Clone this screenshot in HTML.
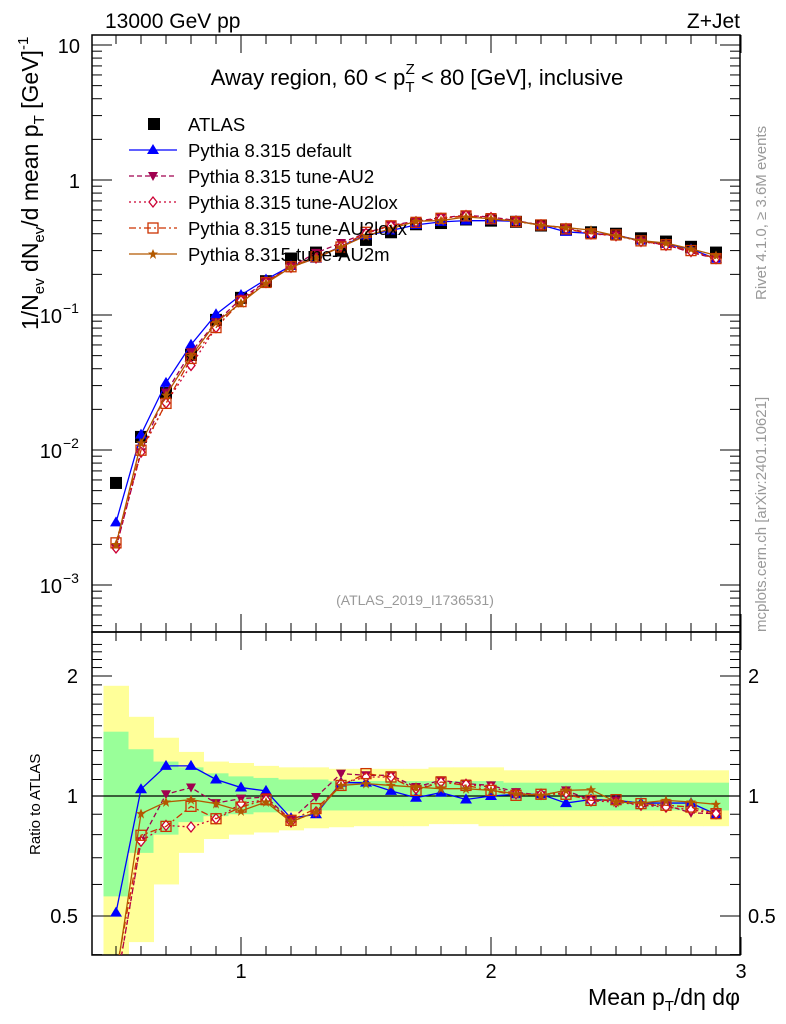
<!DOCTYPE html>
<html><head><meta charset="utf-8"><style>
body{margin:0;background:#fff;}
svg{display:block;font-family:"Liberation Sans",sans-serif;}
</style></head><body>
<svg id="c" width="786" height="1024" viewBox="0 0 786 1024" xmlns="http://www.w3.org/2000/svg">
<text x="105" y="28" font-size="21">13000 GeV pp</text>
<text x="740" y="28" font-size="21" text-anchor="end">Z+Jet</text>
<text x="417" y="85" font-size="22" text-anchor="middle">Away region, 60 &lt; p<tspan font-size="15" dy="7">T</tspan><tspan font-size="15" dx="-9" dy="-18">Z</tspan><tspan dy="11"> &lt; 80 [GeV], inclusive</tspan></text>
<text x="415" y="605" font-size="14" fill="#999" text-anchor="middle">(ATLAS_2019_I1736531)</text>
<text transform="translate(766,300) rotate(-90)" font-size="15" fill="#999">Rivet 4.1.0, ≥ 3.6M events</text>
<text transform="translate(766,632) rotate(-90)" font-size="15" fill="#999">mcplots.cern.ch [arXiv:2401.10621]</text>
<text transform="translate(38,330) rotate(-90)" font-size="23">1/N<tspan font-size="15" dy="6">ev</tspan><tspan dy="-6"> dN</tspan><tspan font-size="15" dy="6">ev</tspan><tspan dy="-6">/d mean p</tspan><tspan font-size="15" dy="6">T</tspan><tspan dy="-6"> [GeV]</tspan><tspan font-size="15" dy="-10">-1</tspan></text>
<text transform="translate(40,855) rotate(-90)" font-size="15">Ratio to ATLAS</text>
<text x="740" y="1005" font-size="23" text-anchor="end">Mean p<tspan font-size="15" dy="6">T</tspan><tspan dy="-6">/dη dφ</tspan></text>
<g id="g"></g>
</svg>
<script>
const xs=[0.5,0.6,0.7,0.8,0.9,1.0,1.1,1.2,1.3,1.4,1.5,1.6,1.7,1.8,1.9,2.0,2.1,2.2,2.3,2.4,2.5,2.6,2.7,2.8,2.9];
const atlas=[0.0057,0.0125,0.0264,0.0506,0.092,0.134,0.178,0.262,0.29,0.30,0.36,0.41,0.47,0.48,0.51,0.50,0.49,0.46,0.43,0.41,0.40,0.37,0.35,0.32,0.29];
const rDefault=[0.51,1.04,1.19,1.19,1.10,1.05,1.03,0.88,0.90,1.08,1.08,1.03,0.99,1.02,0.98,1.00,1.01,1.01,0.96,0.98,0.975,0.96,0.96,0.96,0.90];
const rAU2=[0.33,0.77,1.01,1.05,0.96,0.985,0.994,0.87,0.994,1.138,1.127,1.127,1.053,1.095,1.074,1.063,1.023,1.004,1.033,0.975,0.975,0.948,0.948,0.907,0.903];
const rAU2lox=[0.33,0.77,0.844,0.836,0.877,0.957,0.979,0.861,0.912,1.074,1.116,1.116,1.043,1.084,1.070,1.053,1.013,1.010,1.017,0.972,0.966,0.948,0.938,0.924,0.903];
const rAU2loxx=[0.36,0.797,0.839,0.942,0.877,0.938,0.979,0.869,0.930,1.063,1.138,1.116,1.033,1.084,1.063,1.033,1.004,1.010,1.010,0.975,0.979,0.957,0.948,0.938,0.903];
const rAU2m=[0.35,0.903,0.966,0.979,0.957,0.917,0.966,0.861,0.912,1.063,1.074,1.063,1.053,1.043,1.043,1.033,1.013,1.004,1.033,1.037,0.966,0.960,0.975,0.966,0.953];
const yelUp=[1.89,1.58,1.40,1.29,1.22,1.21,1.19,1.18,1.18,1.17,1.17,1.17,1.17,1.18,1.18,1.18,1.16,1.16,1.16,1.16,1.16,1.16,1.16,1.16,1.16];
const yelLo=[0.30,0.43,0.60,0.72,0.78,0.80,0.81,0.82,0.83,0.835,0.84,0.84,0.84,0.85,0.85,0.84,0.84,0.84,0.84,0.84,0.84,0.84,0.84,0.84,0.84];
const grnUp=[1.45,1.31,1.22,1.18,1.14,1.12,1.11,1.10,1.10,1.09,1.09,1.09,1.09,1.09,1.09,1.09,1.08,1.08,1.08,1.08,1.08,1.08,1.08,1.08,1.08];
const grnLo=[0.56,0.72,0.80,0.86,0.89,0.90,0.91,0.915,0.92,0.92,0.92,0.92,0.92,0.92,0.92,0.92,0.92,0.92,0.92,0.92,0.92,0.92,0.92,0.92,0.92];
const yTicks=[10,1,0.1,0.01,0.001];
const yTickLabels=["10","1","10","10","10"];
const yTickExp=["","","−1","−2","−3"];
const rTicks=[2,1,0.5];
const xTicks=[1,2,3];

const L=92,R=740,T=35,MB=632,RB=955;
const X=v=>-9+250*v;
const Y=v=>180-135*Math.log10(v);
const RY=v=>796-120*Math.log2(v);
const g=document.getElementById('g');
const NS='http://www.w3.org/2000/svg';
function mk(tag,at,parent){const e=document.createElementNS(NS,tag);for(const k in at)e.setAttribute(k,at[k]);(parent||g).appendChild(e);return e;}

const rb=mk('g',{'clip-path':'url(#rc)'});


const cp=mk('clipPath',{id:'rc'});mk('rect',{x:L,y:MB,width:R-L,height:RB-MB},cp);
xs.forEach((x,i)=>{
 const x0=X(x-0.05),x1=X(x+0.05);
 const a=mk('rect',{x:x0,y:RY(yelUp[i]),width:x1-x0+0.5,height:RY(yelLo[i])-RY(yelUp[i]),fill:'#ffff99'},rb);
 
 
 const b=mk('rect',{x:x0,y:RY(grnUp[i]),width:x1-x0+0.5,height:RY(grnLo[i])-RY(grnUp[i]),fill:'#99ff99'},rb);
 
 
});
mk('line',{x1:L,x2:R,y1:RY(1),y2:RY(1),stroke:'#000','stroke-width':1.3});

const f1=mk('rect',{x:L,y:T,width:R-L,height:MB-T,fill:'none',stroke:'#000','stroke-width':1.5});


const f2=mk('rect',{x:L,y:MB,width:R-L,height:RB-MB,fill:'none',stroke:'#000','stroke-width':1.5});



for(let d=-4;d<=1;d++){for(let m=1;m<10;m++){const v=m*Math.pow(10,d);const y=Y(v);if(y<T||y>MB)continue;const len=m==1?20:10;
 mk('line',{x1:L,x2:L+len,y1:y,y2:y,stroke:'#000'});mk('line',{x1:R,x2:R-len,y1:y,y2:y,stroke:'#000'});}}
yTicks.forEach((v,i)=>{const t=mk('text',{x:yTickExp[i]?62:80,y:Y(v)+8,'font-size':20,'text-anchor':'end'});t.textContent=yTickLabels[i];
 
 
 if(yTickExp[i]){const s=mk('text',{x:63,y:Y(v)-2,'font-size':14},);s.textContent=yTickExp[i];
 
 }});
for(let v=0.4;v<=2.5;v+=0.1){const y=RY(v);if(y<MB||y>RB)continue;const maj=[0.5,1,2].some(a=>Math.abs(a-v)<1e-6);const len=maj?20:10;
 mk('line',{x1:L,x2:L+len,y1:y,y2:y,stroke:'#000'});mk('line',{x1:R,x2:R-len,y1:y,y2:y,stroke:'#000'});}
rTicks.forEach(v=>{const t=mk('text',{x:78,y:RY(v)+7,'font-size':20,'text-anchor':'end'});t.textContent=String(v);
 
 
 const t2=mk('text',{x:748,y:RY(v)+7,'font-size':20});t2.textContent=String(v);
 
 });
for(let i=5;i<=30;i++){const v=i/10;const x=X(v);const maj=i%10==0;const len=maj?18:9;
 [[T,1],[MB,-1],[MB,1],[RB,-1]].forEach(([y0,s])=>mk('line',{x1:x,x2:x,y1:y0,y2:y0+s*len,stroke:'#000'}));}
xTicks.forEach(v=>{const t=mk('text',{x:X(v),y:978,'font-size':20,'text-anchor':'middle'});t.textContent=String(v);
 
 });

const ga=mk('g',{});


xs.forEach((x,i)=>{mk('rect',{x:X(x)-6,y:Y(atlas[i])-6,width:12,height:12,fill:'#000'},ga);});

const series=[
 {name:'pythia-default',r:rDefault,c:'#0000ff',d:'',m:'tri'},
 {name:'pythia-au2',r:rAU2,c:'#a0004f',d:'5,3',m:'dtri'},
 {name:'pythia-au2lox',r:rAU2lox,c:'#cc0033',d:'2,3',m:'dia'},
 {name:'pythia-au2loxx',r:rAU2loxx,c:'#cc3300',d:'7,3,2,3',m:'sq'},
 {name:'pythia-au2m',r:rAU2m,c:'#b35900',d:'',m:'star'}];
function marker(type,x,y,c,parent){
 if(type=='tri')return mk('path',{d:`M${x} ${y-6}L${x+6} ${y+4}L${x-6} ${y+4}Z`,fill:c},parent);
 if(type=='dtri')return mk('path',{d:`M${x} ${y+5}L${x+5} ${y-4}L${x-5} ${y-4}Z`,fill:c},parent);
 if(type=='dia')return mk('path',{d:`M${x} ${y-5}L${x+4} ${y}L${x} ${y+5}L${x-4} ${y}Z`,fill:'#fff',stroke:c,'stroke-width':1.3},parent);
 if(type=='sq')return mk('rect',{x:x-5,y:y-5,width:10,height:10,fill:'none',stroke:c,'stroke-width':1.3},parent);
 if(type=='star')return mk('path',{d:`M${x} ${y-5}L${x+1.5} ${y-1.5}L${x+5} ${y-1.5}L${x+2} ${y+1}L${x+3} ${y+5}L${x} ${y+2.5}L${x-3} ${y+5}L${x-2} ${y+1}L${x-5} ${y-1.5}L${x-1.5} ${y-1.5}Z`,fill:c},parent);
}
const mc=mk('clipPath',{id:'mc'});mk('rect',{x:L,y:T,width:R-L,height:MB-T},mc);
series.forEach(s=>{
 const gm=mk('g',{'clip-path':'url(#mc)'});
 
 
 const pts=xs.map((x,i)=>[X(x),Y(atlas[i]*s.r[i])]);
 mk('polyline',{points:pts.map(p=>p.join(',')).join(' '),fill:'none',stroke:s.c,'stroke-width':1.3,'stroke-dasharray':s.d},gm);
 pts.forEach(p=>marker(s.m,p[0],p[1],s.c,gm));
 const gr=mk('g',{'clip-path':'url(#rc)'});
 
 
 const rp=xs.map((x,i)=>[X(x),RY(s.r[i])]);
 mk('polyline',{points:rp.map(p=>p.join(',')).join(' '),fill:'none',stroke:s.c,'stroke-width':1.3,'stroke-dasharray':s.d},gr);
 rp.forEach(p=>marker(s.m,p[0],p[1],s.c,gr));
});
const leg=[['ATLAS','#000','','sqf'],['Pythia 8.315 default','#0000ff','','tri'],['Pythia 8.315 tune-AU2','#a0004f','5,3','dtri'],['Pythia 8.315 tune-AU2lox','#cc0033','2,3','dia'],['Pythia 8.315 tune-AU2loxx','#cc3300','7,3,2,3','sq'],['Pythia 8.315 tune-AU2m','#b35900','','star']];
leg.forEach((e,i)=>{const y=124+26*i;const gl=mk('g',{});
 
 
 if(e[3]=='sqf'){mk('rect',{x:148,y:y-6,width:12,height:12,fill:'#000'},gl);}
 else{mk('line',{x1:129,x2:177,y1:y,y2:y,stroke:e[1],'stroke-width':1.3,'stroke-dasharray':e[2]},gl);marker(e[3],153,y,e[1],gl);}
 const t=mk('text',{x:188,y:y+7,'font-size':18.5},gl);t.textContent=e[0];});
</script>
</body></html>
